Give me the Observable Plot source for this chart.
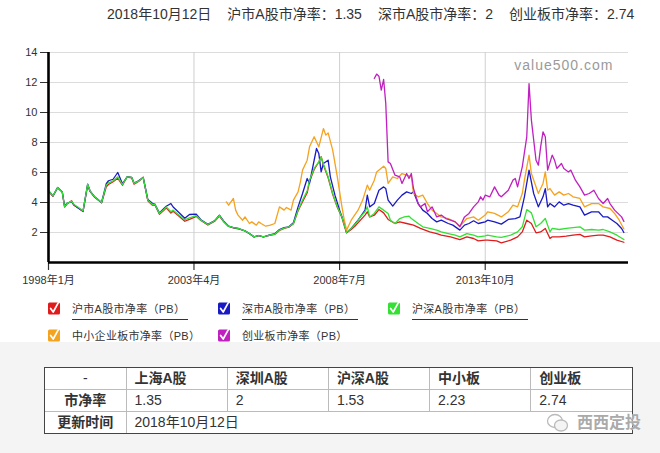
<!DOCTYPE html>
<html><head><meta charset="utf-8">
<script src="https://cdn.jsdelivr.net/npm/d3@7"></script>
<script src="https://cdn.jsdelivr.net/npm/@observablehq/plot@0.6"></script>
<style>
body{margin:0;width:660px;height:453px;overflow:hidden;position:relative;background:#fff;font-family:"Liberation Sans","Noto Sans CJK SC",sans-serif;color:#333}
#title{position:absolute;left:107px;top:5px;font-size:14px;line-height:18px;white-space:nowrap}
#title span{margin-right:16px}
#chart{position:absolute;left:0;top:0}
.lg{position:absolute;height:16px;white-space:nowrap}
.lg svg{position:absolute;left:0;top:0}
.lg span{position:absolute;left:25px;top:2px;font-size:11px;line-height:13px;padding:0 3px 3px 0;border-bottom:1px solid #333;color:#333;letter-spacing:0.3px}
#bottom{position:absolute;left:0;top:342px;width:660px;height:111px;background:#f4f4f4}
#tw{position:absolute;left:44px;top:25px;border:1px solid #444;background:#fff}
table{border-collapse:collapse;table-layout:fixed;width:587px;font-size:14px;color:#333}
td{border-right:1px solid #bbb;border-bottom:1px solid #bbb;padding:0 8px;height:21px;line-height:21px;white-space:nowrap;overflow:hidden}
tr:last-child td{border-bottom:none}
td:last-child{border-right:none}
td.h{font-weight:bold}
td.c{text-align:center;font-weight:bold}
#wm{position:absolute;left:546px;top:412px;height:22px}
#wm span{position:absolute;left:31px;top:0;font-size:16px;line-height:22px;font-weight:bold;color:#aaa;white-space:nowrap;text-shadow:0 0 1px #fff}
</style></head>
<body>
<div id="title"></div>
<div id="chart"></div>
<div id="legend"></div>
<div id="bottom"><div id="tw"></div></div>
<div id="wm"><svg width="24" height="22" viewBox="0 0 24 22"><ellipse cx="9" cy="9" rx="7.5" ry="6.5" fill="none" stroke="#bbb" stroke-width="1.3"/><ellipse cx="15" cy="13.5" rx="6.5" ry="5.5" fill="#f4f4f4" stroke="#bbb" stroke-width="1.3"/></svg><span>西西定投</span></div>
<script>
// ---------- data ----------
const seriesNames = ["沪市A股市净率（PB）","深市A股市净率（PB）","沪深A股市净率（PB）","中小企业板市净率（PB）","创业板市净率（PB）"];
const seriesColors = ["#e01b1b","#1a1ac4","#33e033","#f5a21e","#c020c0"];

const shDates = ["1998-01","1998-03","1998-05","1998-07","1998-08","1998-09","1998-11","1998-12","1999-02","1999-04","1999-06","1999-07","1999-09","1999-12","2000-02","2000-03","2000-05","2000-07","2000-09","2000-11","2001-01","2001-02","2001-04","2001-06","2001-08","2001-10","2001-11","2002-01","2002-03","2002-04","2002-06","2002-07","2002-09","2002-12","2003-02","2003-05","2003-07","2003-10","2004-01","2004-03","2004-05","2004-07","2004-09","2004-11","2005-02","2005-04","2005-06","2005-08","2005-10","2005-12","2006-03","2006-05","2006-07","2006-09","2006-11","2007-01","2007-03","2007-05","2007-06","2007-08","2007-10","2007-11","2007-12","2008-02","2008-04","2008-06","2008-08","2008-09","2008-10","2008-12","2009-02","2009-06","2009-07","2009-08","2009-10","2009-12","2010-02","2010-04","2010-07","2010-09","2010-12","2011-03","2011-06","2011-10","2012-01","2012-03","2012-07","2012-11","2013-02","2013-05","2013-07","2013-10","2013-11","2014-03","2014-05","2014-09","2014-12","2015-02","2015-04","2015-06","2015-08","2015-10","2015-12","2016-02","2016-03","2016-06","2016-09","2016-12","2017-03","2017-05","2017-08","2017-11","2018-01","2018-04","2018-07","2018-10"];
const shValues = [4.75,4.42,4.98,4.7,3.7,3.9,4.12,3.82,3.62,3.4,5.18,4.75,4.35,3.98,5.05,5.2,5.38,5.62,5.15,5.7,5.65,5.22,5.4,5.68,4.12,3.82,3.85,3.22,3.48,3.65,3.3,3.42,3.15,2.75,2.88,3.08,2.8,2.5,2.76,3.1,2.7,2.4,2.31,2.25,2.1,1.92,1.7,1.79,1.7,1.79,1.88,2.14,2.27,2.36,2.58,3.45,4.05,4.65,5.4,6.2,6.7,7.05,6.5,5.65,4.55,3.68,3.0,2.45,1.98,2.2,2.49,3.16,3.38,3.04,3.15,3.53,3.31,2.87,2.6,2.71,2.6,2.49,2.27,2.04,1.93,1.82,1.71,1.53,1.71,1.6,1.44,1.49,1.49,1.44,1.31,1.49,1.71,2.04,2.82,2.6,1.98,2.04,2.27,1.6,1.71,1.71,1.76,1.82,1.87,1.71,1.78,1.82,1.82,1.71,1.49,1.35];

const szDates = ["1998-01","1998-03","1998-05","1998-07","1998-08","1998-09","1998-11","1998-12","1999-02","1999-04","1999-06","1999-07","1999-09","1999-12","2000-02","2000-03","2000-05","2000-07","2000-09","2000-11","2001-01","2001-02","2001-04","2001-06","2001-08","2001-10","2001-11","2002-01","2002-03","2002-04","2002-06","2002-07","2002-09","2002-12","2003-02","2003-05","2003-07","2003-10","2004-01","2004-03","2004-05","2004-07","2004-09","2004-11","2005-02","2005-04","2005-06","2005-08","2005-10","2005-12","2006-03","2006-05","2006-07","2006-09","2006-11","2007-01","2007-03","2007-05","2007-06","2007-07","2007-09","2007-10","2007-11","2007-12","2008-02","2008-03","2008-05","2008-07","2008-09","2008-10","2008-12","2009-03","2009-06","2009-07","2009-08","2009-10","2009-12","2010-02","2010-03","2010-04","2010-06","2010-08","2010-10","2010-12","2011-02","2011-03","2011-05","2011-07","2011-09","2011-11","2012-01","2012-03","2012-06","2012-08","2012-11","2013-01","2013-03","2013-05","2013-07","2013-10","2013-11","2014-02","2014-05","2014-08","2014-11","2015-01","2015-03","2015-05","2015-07","2015-09","2015-11","2015-12","2016-01","2016-02","2016-04","2016-06","2016-08","2016-10","2016-12","2017-03","2017-05","2017-08","2017-11","2018-01","2018-03","2018-05","2018-07","2018-09","2018-10"];
const szValues = [4.78,4.44,5.0,4.71,3.75,3.95,4.05,3.85,3.62,3.42,5.22,4.78,4.38,4.0,5.25,5.45,5.55,6.0,5.25,5.71,5.67,5.3,5.45,5.67,4.2,3.95,3.9,3.3,3.6,3.75,3.93,3.7,3.4,2.95,3.2,3.22,2.85,2.55,2.8,3.15,2.73,2.42,2.33,2.27,2.11,1.93,1.71,1.8,1.71,1.8,1.92,2.2,2.33,2.38,2.65,3.71,4.6,5.6,5.27,6.04,7.6,7.27,6.04,6.6,6.82,5.71,4.49,3.49,2.6,2.0,2.27,2.82,3.49,4.49,3.71,3.93,4.82,5.04,4.93,4.16,3.76,4.16,4.49,4.71,4.6,4.71,3.93,3.49,3.27,2.93,2.71,2.82,2.6,2.49,2.16,2.49,2.6,2.78,2.6,2.71,2.82,2.71,2.56,2.87,2.93,3.04,4.38,6.16,4.6,3.71,4.38,4.93,3.71,3.93,3.71,4.04,3.82,3.93,3.82,3.71,3.16,3.38,3.38,3.04,3.04,2.82,2.6,2.27,2.0];

const hsDates = ["1998-01","1998-03","1998-05","1998-07","1998-08","1998-09","1998-11","1998-12","1999-02","1999-04","1999-06","1999-07","1999-09","1999-12","2000-02","2000-03","2000-05","2000-07","2000-09","2000-11","2001-01","2001-02","2001-04","2001-06","2001-08","2001-10","2001-11","2002-01","2002-03","2002-04","2002-06","2002-07","2002-09","2002-12","2003-02","2003-05","2003-07","2003-10","2004-01","2004-03","2004-05","2004-07","2004-09","2004-11","2005-02","2005-04","2005-06","2005-08","2005-10","2005-12","2006-03","2006-05","2006-07","2006-09","2006-11","2007-01","2007-03","2007-05","2007-06","2007-08","2007-10","2007-11","2007-12","2008-02","2008-04","2008-06","2008-08","2008-09","2008-10","2008-12","2009-02","2009-04","2009-06","2009-07","2009-08","2009-10","2009-12","2010-02","2010-04","2010-05","2010-07","2010-09","2010-11","2011-01","2011-02","2011-05","2011-07","2011-10","2012-01","2012-03","2012-06","2012-09","2012-11","2013-02","2013-05","2013-07","2013-10","2013-11","2014-03","2014-05","2014-09","2014-12","2015-02","2015-04","2015-06","2015-08","2015-10","2015-12","2016-02","2016-03","2016-06","2016-09","2016-12","2017-03","2017-05","2017-08","2017-11","2018-01","2018-04","2018-07","2018-10"];
const hsValues = [4.78,4.44,5.0,4.71,3.71,3.93,4.09,3.87,3.67,3.44,5.22,4.78,4.38,4.0,5.16,5.31,5.44,5.71,5.2,5.71,5.67,5.27,5.42,5.67,4.16,3.87,3.89,3.27,3.53,3.71,3.38,3.49,3.22,2.85,2.97,3.13,2.82,2.53,2.78,3.13,2.71,2.42,2.33,2.27,2.11,1.93,1.71,1.8,1.71,1.8,1.89,2.16,2.29,2.38,2.6,3.49,4.16,4.78,5.49,6.27,6.71,7.04,6.56,5.71,4.6,3.71,3.04,2.49,2.0,2.27,2.6,3.04,3.38,3.71,3.04,3.27,3.71,3.49,3.27,2.82,2.6,2.93,3.04,3.09,2.93,2.6,2.38,2.27,2.16,2.04,1.93,1.82,1.71,1.93,1.82,1.71,1.78,1.82,1.71,1.67,1.82,2.04,2.38,3.53,3.31,2.38,2.6,2.93,2.04,2.27,2.2,2.27,2.33,2.38,2.16,2.2,2.16,2.2,2.04,1.82,1.53];

const zxbDates = ["2004-06","2004-07","2004-09","2004-10","2004-11","2005-01","2005-02","2005-04","2005-05","2005-07","2005-08","2005-09","2005-11","2006-01","2006-03","2006-05","2006-07","2006-08","2006-10","2006-11","2007-01","2007-02","2007-03","2007-05","2007-06","2007-08","2007-10","2007-12","2008-01","2008-02","2008-04","2008-06","2008-08","2008-09","2008-10","2008-12","2009-03","2009-05","2009-07","2009-08","2009-10","2009-11","2010-02","2010-03","2010-04","2010-06","2010-08","2010-10","2010-12","2011-02","2011-03","2011-05","2011-07","2011-09","2011-11","2012-01","2012-03","2012-06","2012-09","2012-11","2013-02","2013-05","2013-07","2013-10","2013-11","2014-02","2014-05","2014-08","2014-10","2014-12","2015-02","2015-03","2015-05","2015-06","2015-09","2015-11","2015-12","2016-01","2016-02","2016-04","2016-06","2016-08","2016-10","2016-12","2017-03","2017-05","2017-08","2017-11","2018-01","2018-04","2018-06","2018-08","2018-10"];
const zxbValues = [4.04,3.82,4.27,3.49,3.16,2.82,3.04,2.6,2.71,2.49,2.71,2.6,2.42,2.49,2.6,3.71,3.49,3.67,3.49,4.16,4.71,5.38,6.16,6.82,7.71,8.38,7.71,8.93,8.49,8.64,7.49,5.71,3.71,2.82,2.16,2.82,3.49,4.16,5.16,4.82,5.49,6.04,6.42,6.27,5.27,5.71,5.6,5.93,5.82,5.71,4.6,4.38,4.49,3.93,3.49,3.27,3.04,2.93,2.71,2.42,2.93,3.04,2.82,3.16,3.38,3.27,3.04,3.38,3.82,3.71,4.6,5.49,7.16,5.93,4.6,5.27,6.04,4.82,4.93,4.49,4.71,4.49,4.6,4.38,4.27,3.71,3.93,3.93,3.71,3.6,3.27,2.82,2.23];

const cybDates = ["2009-10","2009-11","2009-12","2010-01","2010-02","2010-03","2010-04","2010-05","2010-07","2010-09","2010-10","2010-12","2011-01","2011-02","2011-03","2011-05","2011-06","2011-08","2011-09","2011-11","2012-01","2012-03","2012-05","2012-07","2012-09","2012-11","2013-01","2013-03","2013-05","2013-07","2013-08","2013-09","2013-10","2013-12","2014-02","2014-04","2014-05","2014-08","2014-10","2014-11","2014-12","2015-02","2015-04","2015-05","2015-06","2015-08","2015-09","2015-10","2015-11","2015-12","2016-01","2016-03","2016-04","2016-05","2016-07","2016-08","2016-10","2016-11","2017-01","2017-03","2017-05","2017-07","2017-09","2017-11","2018-01","2018-03","2018-04","2018-06","2018-09","2018-10"];
const cybValues = [12.27,12.56,12.42,11.49,12.2,10.6,6.71,6.6,5.82,5.71,5.27,5.93,5.6,5.93,4.93,3.93,3.71,3.93,3.38,3.71,3.04,3.16,2.93,2.82,2.71,2.38,3.04,3.27,3.71,4.04,4.38,4.16,4.49,4.38,5.04,4.49,4.38,4.82,5.49,5.6,5.04,6.38,8.38,11.93,9.49,6.82,6.49,7.71,8.71,8.38,6.16,7.16,6.82,6.27,6.6,6.27,6.04,6.16,5.49,5.04,4.49,4.6,4.82,4.27,3.93,4.27,3.93,3.49,3.04,2.74];

const yTicks = [2,4,6,8,10,12,14];
const xTickDates = ["2003-04","2008-07","2013-10"];
const xTickLabels = ["1998年1月","2003年4月","2008年7月","2013年10月"];
const xAllTicks = ["1998-01","2003-04","2008-07","2013-10"];
const xDomain = ["1998-01","2018-12"];

const titleParts = ["2018年10月12日","沪市A股市净率：1.35","深市A股市净率：2","创业板市净率：2.74"];
const tableHeader = ["-","上海A股","深圳A股","沪深A股","中小板","创业板"];
const tableRowLabel = "市净率";
const tableValues = ["1.35","2","1.53","2.23","2.74"];
const updateLabel = "更新时间";
const updateDate = "2018年10月12日";
const watermark = "value500.com";

// ---------- build ----------
const parse = d3.utcParse("%Y-%m");
const allDates = [shDates, szDates, hsDates, zxbDates, cybDates];
const allValues = [shValues, szValues, hsValues, zxbValues, cybValues];
const data = [];
allDates.forEach((ds, k) => ds.forEach((d, i) => data.push({series: seriesNames[k], date: parse(d), value: allValues[k][i]})));

const tickDates = xAllTicks.map(parse);
const fmtX = d => xTickLabels[tickDates.findIndex(t => +t === +d)];

const chart = Plot.plot({
  width: 660, height: 295,
  marginTop: 52, marginBottom: 33, marginLeft: 48, marginRight: 32,
  style: {fontFamily: '"Liberation Sans","Noto Sans CJK SC",sans-serif', fontSize: "11px", color: "#333", background: "transparent", overflow: "visible"},
  x: {type: "utc", domain: xDomain.map(parse), label: null},
  y: {domain: [0, 14], label: null},
  color: {domain: seriesNames, range: seriesColors},
  marks: [
    Plot.gridY(yTicks, {stroke: "#dcdcdc", strokeOpacity: 1}),
    Plot.gridX(xTickDates.map(parse), {stroke: "#cfcfcf", strokeOpacity: 1}),
    Plot.line(data, {x: "date", y: "value", z: "series", stroke: "series", strokeWidth: 1.3}),
    Plot.axisY(yTicks, {tickSize: 8, tickPadding: 3, fontSize: 11, tickFormat: d => String(d), label: null}),
    Plot.axisX(tickDates, {tickSize: 8, tickPadding: 6, fontSize: 11, tickFormat: fmtX, strokeWidth: 1.2, label: null}),
    Plot.ruleY([0], {stroke: "#000", strokeWidth: 2.6}),
    Plot.ruleX([parse(xDomain[0])], {stroke: "#000", strokeWidth: 2.6}),
    Plot.text([watermark], {frameAnchor: "top-right", dx: -15, dy: 8, fontSize: 14, fill: "#9a9a9a"})
  ]
});
chart.querySelectorAll("text").forEach(t => { if (t.textContent === watermark) t.style.letterSpacing = "1px"; });
document.getElementById("chart").appendChild(chart);

// title
document.getElementById("title").innerHTML = titleParts.map(s => `<span>${s}</span>`).join("");

// legend
const lg = document.getElementById("legend");
seriesNames.forEach((name, i) => {
  const row = i < 3 ? 0 : 1, col = i % 3;
  const div = document.createElement("div");
  div.className = "lg";
  div.style.left = (47 + col * 170) + "px";
  div.style.top = (row === 0 ? 301 : 327.5) + "px";
  div.innerHTML = `<svg width="15" height="15" viewBox="0 0 15 15"><rect x="1" y="1.5" width="12" height="12" rx="1.5" fill="${seriesColors[i]}"/><path d="M3.6 7.4 L6.2 11 L11.2 1.8" stroke="#fff" stroke-width="1.7" fill="none" stroke-linecap="round" stroke-linejoin="round"/></svg><span>${name}</span>`;
  lg.appendChild(div);
});

// table
const tw = document.getElementById("tw");
let html = `<table><colgroup><col style="width:81px">${tableValues.map(() => '<col>').join("")}</colgroup>`;
html += `<tr>${tableHeader.map((h, i) => i === 0 ? `<td class="c" style="font-weight:normal">${h}</td>` : `<td class="h">${h}</td>`).join("")}</tr>`;
html += `<tr><td class="c">${tableRowLabel}</td>${tableValues.map(v => `<td>${v}</td>`).join("")}</tr>`;
html += `<tr><td class="c">${updateLabel}</td><td colspan="5">${updateDate}</td></tr></table>`;
tw.innerHTML = html;
</script>
</body></html>
